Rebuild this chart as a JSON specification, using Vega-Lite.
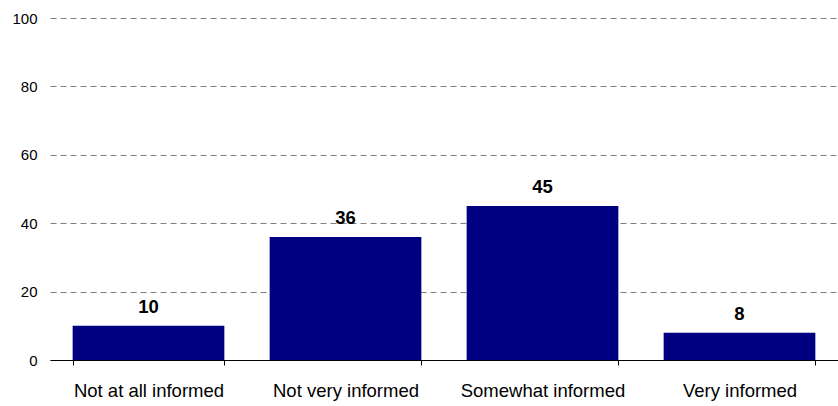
{
  "$schema": "https://vega.github.io/schema/vega-lite/v6.json",
  "width": 788,
  "height": 342,
  "autosize": {"type": "none"},
  "padding": {"left": 50, "top": 18, "right": 0, "bottom": 46},
  "background": "white",
  "config": {
    "view": {"stroke": null},
    "font": "Liberation Sans",
    "axis": {"labelFont": "Liberation Sans", "labelColor": "black"}
  },
  "data": {
    "values": [
      {"category": "Not at all informed", "value": 10},
      {"category": "Not very informed", "value": 36},
      {"category": "Somewhat informed", "value": 45},
      {"category": "Very informed", "value": 8}
    ]
  },
  "encoding": {
    "x": {
      "field": "category",
      "type": "nominal",
      "sort": null,
      "scale": {"paddingInner": 0.23, "paddingOuter": 0.115},
      "axis": {
        "title": null,
        "labelAngle": 0,
        "labelFontSize": 18.5,
        "labelPadding": 16,
        "domainColor": "black",
        "domainWidth": 1,
        "tickColor": "black",
        "tickSize": 5,
        "tickBand": "extent",
        "grid": false
      }
    },
    "y": {
      "field": "value",
      "type": "quantitative",
      "scale": {"domain": [0, 100], "nice": false},
      "axis": {
        "title": null,
        "values": [0, 20, 40, 60, 80, 100],
        "domain": false,
        "ticks": false,
        "labelPadding": 13,
        "labelFontSize": 15,
        "grid": true,
        "gridColor": "#808080",
        "gridDash": [6, 4],
        "gridWidth": 1
      }
    }
  },
  "layer": [
    {"mark": {"type": "bar", "color": "#000080"}},
    {
      "mark": {"type": "text", "baseline": "alphabetic", "dy": -13, "fontWeight": "bold", "fontSize": 18.5, "font": "Liberation Sans", "color": "black"},
      "encoding": {"text": {"field": "value", "type": "quantitative"}}
    }
  ]
}
